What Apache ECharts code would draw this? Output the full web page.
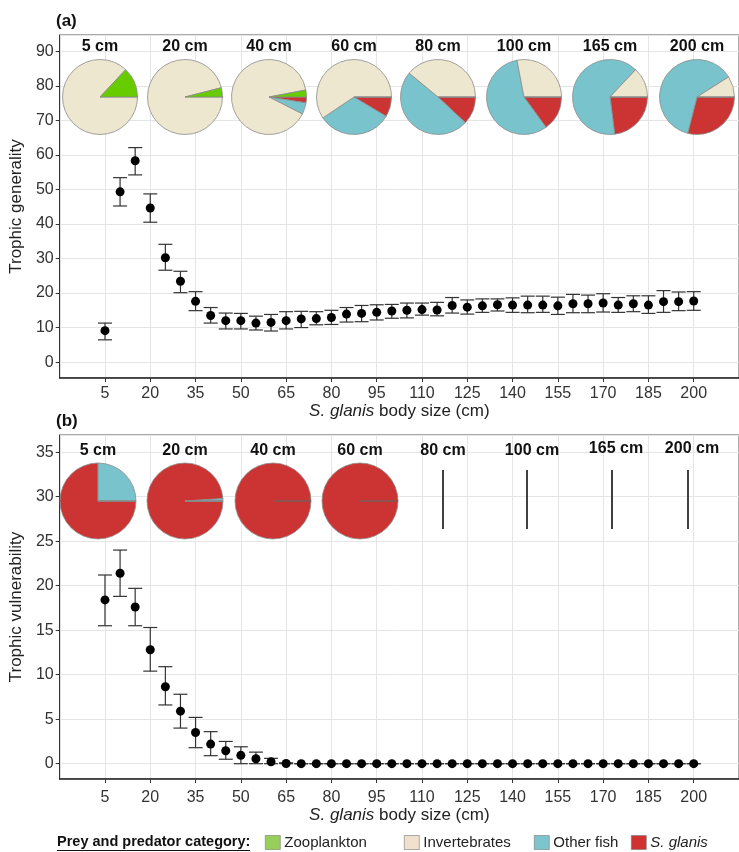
<!DOCTYPE html>
<html><head><meta charset="utf-8">
<script src="https://cdn.jsdelivr.net/npm/echarts@6/dist/echarts.min.js"></script>
<style>html,body{margin:0;padding:0;background:#fff}#c{width:739px;height:852px}</style>
</head><body><div id="c"></div>
<script>
// ---------- data ----------
const sizes = [5,10,15,20,25,30,35,40,45,50,55,60,65,70,75,80,85,90,95,100,105,110,115,120,125,130,135,140,145,150,155,160,165,170,175,180,185,190,195,200];
const xTickLabels = ['5','20','35','50','65','80','95','110','125','140','155','170','185','200'];
const genMean = [9.1,49.3,58.3,44.6,30.2,23.4,17.6,13.5,12.0,12.0,11.3,11.5,12.0,12.5,12.6,12.9,13.9,14.1,14.4,14.8,15.0,15.2,15.1,16.4,15.9,16.3,16.6,16.5,16.5,16.5,16.3,16.9,16.9,17.1,16.5,16.9,16.5,17.5,17.5,17.7];
const genLow  = [6.45,45.2,54.2,40.5,26.6,20.1,14.9,11.3,9.6,9.6,9.3,9.0,9.6,10.0,10.8,10.9,11.6,11.7,12.2,12.7,12.8,13.6,13.4,14.2,13.9,14.4,14.8,14.4,14.3,14.4,13.8,14.3,14.3,14.5,14.4,14.6,14.1,14.4,14.9,15.0];
const genHigh = [11.3,53.4,62.1,48.7,34.1,26.3,20.4,15.8,14.2,14.1,13.3,13.8,14.6,14.7,14.6,15.0,15.8,16.4,16.6,16.7,17.1,17.1,17.3,18.7,18.0,18.3,18.3,18.6,19.1,19.1,18.8,19.6,19.4,19.8,18.7,19.2,19.2,20.7,20.3,20.4];
const vulMean = [18.4,21.4,17.6,12.8,8.65,5.9,3.5,2.2,1.46,0.94,0.56,0.22,0.02,0,0,0,0,0,0,0,0,0,0,0,0,0,0,0,0,0,0,0,0,0,0,0,0,0,0,0];
const vulLow  = [15.5,18.8,15.5,10.4,6.6,4.0,1.8,0.9,0.5,0.0,0.0,0.0,0.0,0,0,0,0,0,0,0,0,0,0,0,0,0,0,0,0,0,0,0,0,0,0,0,0,0,0,0];
const vulHigh = [21.2,24.0,19.7,15.3,10.9,7.8,5.2,3.6,2.5,1.9,1.3,0.6,0.1,0,0,0,0,0,0,0,0,0,0,0,0,0,0,0,0,0,0,0,0,0,0,0,0,0,0,0];

// diet categories (clockwise from 3 o'clock): S. glanis, Other fish, Invertebrates, Zooplankton
const categories = ['S. glanis','Other fish','Invertebrates','Zooplankton'];
const pieSizesA = ['5 cm','20 cm','40 cm','60 cm','80 cm','100 cm','165 cm','200 cm'];
const dietSGlanis  = [0,0,2.5,8.6,12,15,23,29];
const dietOtherFish= [0,0,5,32,49,57,64,62];
const dietInvert   = [87,96,89.5,59.4,39,28,13,9];
const dietZoo      = [13,4,3,0,0,0,0,0];
// predators (panel b)
const pieSizesB = ['5 cm','20 cm','40 cm','60 cm','80 cm','100 cm','165 cm','200 cm'];
const predSGlanis   = [75,99,100,100,0,0,0,0];
const predOtherFish = [25,1,0,0,0,0,0,0];

// ---------- styles / layout ----------
const pieColors = {'S. glanis':'#CC3333','Other fish':'#79C3CC','Invertebrates':'#EDE7CF','Zooplankton':'#66CC00'};
const legendColors = {'S. glanis':'#D03232','Other fish':'#7CC5CE','Invertebrates':'#F0E1CF','Zooplankton':'#97CF5A'};
const pieCentersA = [100,185,269,354,438,524,610,697];
const pieCentersB = [98,185,273,360,443,527,612,688];
const labelXB = [98,185,273,360,443,532,616,692];
const legendLefts = [265,404,534,631];
const font = 'Liberation Sans, Arial, sans-serif';
const textCol = '#333333';

const chart = echarts.init(document.getElementById('c'));

function errRender(params, api){
  const x = api.value(0), lo = api.value(1), hi = api.value(2);
  const a = api.coord([x, lo]), b = api.coord([x, hi]);
  const w = 7, st = {stroke:'#333', lineWidth:1.2};
  return {type:'group', children:[
    {type:'line', shape:{x1:a[0],y1:a[1],x2:b[0],y2:b[1]}, style:st},
    {type:'line', shape:{x1:a[0]-w,y1:a[1],x2:a[0]+w,y2:a[1]}, style:st},
    {type:'line', shape:{x1:b[0]-w,y1:b[1],x2:b[0]+w,y2:b[1]}, style:st}
  ]};
}

const xShift = v => v - 5;
function xAxisCfg(gi, margin, gap){
  return {type:'value', gridIndex:gi, min:-15, max:210, interval:15,
    axisLine:{show:true, onZero:false, lineStyle:{color:'#222', width:1.5}},
    axisTick:{show:true, length:4, lineStyle:{color:'#333'}},
    axisLabel:{fontFamily:font, fontSize:16, color:textCol, margin:margin, showMinLabel:false, showMaxLabel:false,
      formatter: v => { const s = String(v+5); return xTickLabels.indexOf(s) >= 0 ? s : ''; }},
    splitLine:{show:true, lineStyle:{color:'#E5E5E5', width:1}},
    name:'{i|S. glanis} body size (cm)', nameLocation:'middle', nameGap:gap,
    nameTextStyle:{fontFamily:font, fontSize:17, color:'#222', rich:{i:{fontStyle:'italic', fontFamily:font, fontSize:17, color:'#222'}}}
  };
}
function yAxisCfg(gi, min, max, step, name){
  return {type:'value', gridIndex:gi, min:min, max:max, minInterval:step, maxInterval:step,
    axisLine:{show:true, onZero:false, lineStyle:{color:'#333', width:1}},
    axisTick:{show:true, length:4, lineStyle:{color:'#333'}},
    axisLabel:{fontFamily:font, fontSize:16, color:textCol, margin:6, showMinLabel:false, showMaxLabel:false,
      formatter: v => (Math.abs(v % step) < 1e-9 ? String(v) : '')},
    splitLine:{show:true, lineStyle:{color:'#E5E5E5', width:1}},
    name:name, nameLocation:'middle', nameGap:30,
    nameTextStyle:{fontFamily:font, fontSize:17, color:'#222'}
  };
}

const series = [];
// panel a
series.push({type:'custom', xAxisIndex:0, yAxisIndex:0, renderItem:errRender, encode:{x:0,y:[1,2]},
  data: sizes.map((s,i)=>[xShift(s), genLow[i], genHigh[i]]), silent:true, z:3});
series.push({type:'scatter', xAxisIndex:0, yAxisIndex:0, symbolSize:9, itemStyle:{color:'#000', opacity:1},
  data: sizes.map((s,i)=>[xShift(s), genMean[i]]), silent:true, z:4});
// panel b
series.push({type:'custom', xAxisIndex:1, yAxisIndex:1, renderItem:errRender, encode:{x:0,y:[1,2]},
  data: sizes.map((s,i)=>[xShift(s), vulLow[i], vulHigh[i]]), silent:true, z:3});
series.push({type:'scatter', xAxisIndex:1, yAxisIndex:1, symbolSize:9, itemStyle:{color:'#000', opacity:1},
  data: sizes.map((s,i)=>[xShift(s), vulMean[i]]), silent:true, z:4});

function pieSeries(cx, cy, r, vals){
  return {type:'pie', center:[cx, cy], radius:[0, r], startAngle:0, clockwise:true, silent:true,
    stillShowZeroSum:false, avoidLabelOverlap:false, label:{show:false}, labelLine:{show:false},
    emphasis:{disabled:true}, animation:false, z:5,
    itemStyle:{borderColor:'#8c8c8c', borderWidth:0.8},
    data: vals.map((v,k)=>({name:categories[k], value:v, itemStyle:{color:pieColors[categories[k]]}}))
  };
}
pieSizesA.forEach((lab,i)=>{
  series.push(pieSeries(pieCentersA[i], 97, 37.5, [dietSGlanis[i], dietOtherFish[i], dietInvert[i], dietZoo[i]]));
});
const graphics = [];
pieSizesB.forEach((lab,i)=>{
  const tot = predSGlanis[i] + predOtherFish[i];
  if (tot > 0) {
    series.push(pieSeries(pieCentersB[i], 501, 38, [predSGlanis[i], predOtherFish[i], 0, 0]));
    if (predOtherFish[i] === 0) {
      // single-category pie: its seam at 3 o'clock
      graphics.push({type:'line', shape:{x1:pieCentersB[i], y1:501, x2:pieCentersB[i]+38, y2:501}, style:{stroke:'#8a2020', lineWidth:1}, z:10});
    }
  } else {
    // degenerate pie (no predators): drawn as a vertical stroke
    graphics.push({type:'line', shape:{x1:pieCentersB[i], y1:470, x2:pieCentersB[i], y2:529}, style:{stroke:'#111', lineWidth:1.6}, z:10});
  }
});
pieSizesA.forEach((lab,i)=>{
  graphics.push({type:'text', x:pieCentersA[i], y:47, style:{text:lab, fontFamily:font, fontSize:16, fontWeight:'bold', fill:'#111', align:'center', verticalAlign:'middle'}, z:10});
});
pieSizesB.forEach((lab,i)=>{
  graphics.push({type:'text', x:labelXB[i], y:(i>=6?449:451), style:{text:lab, fontFamily:font, fontSize:16, fontWeight:'bold', fill:'#111', align:'center', verticalAlign:'middle'}, z:10});
});
graphics.push({type:'text', x:56, y:21, style:{text:'(a)', fontFamily:font, fontSize:17, fontWeight:'bold', fill:'#111', verticalAlign:'middle'}});
graphics.push({type:'text', x:56, y:421, style:{text:'(b)', fontFamily:font, fontSize:17, fontWeight:'bold', fill:'#111', verticalAlign:'middle'}});
graphics.push({type:'text', x:57, y:842, style:{text:'Prey and predator category:', fontFamily:font, fontSize:14.5, fontWeight:'bold', fill:'#111', verticalAlign:'middle'}});
graphics.push({type:'line', shape:{x1:57, y1:850.5, x2:250, y2:850.5}, style:{stroke:'#111', lineWidth:1}});

const legendOrder = ['Zooplankton','Invertebrates','Other fish','S. glanis'];
const legends = legendOrder.map((n,k)=>({
  left:legendLefts[k], top:835, padding:0, itemWidth:15, itemHeight:14, selectedMode:false, icon:'rect',
  textStyle:{fontFamily:font, fontSize:15, color:'#222', padding:[0,0,0,-1], rich:{i:{fontStyle:'italic', fontFamily:font, fontSize:15, color:'#222'}}},
  formatter: nm => nm === 'S. glanis' ? '{i|S. glanis}' : nm,
  itemGap:0,
  data:[{name:n, itemStyle:{color:legendColors[n], borderColor:'#777', borderWidth:0.6}}]
}));

chart.setOption({
  animation:false,
  backgroundColor:'#fff',
  grid:[
    {left:55, top:35, right:-1, height:343, show:true, borderColor:'#555', borderWidth:1, containLabel:false},
    {left:55, top:435, right:-1, height:344, show:true, borderColor:'#555', borderWidth:1, containLabel:false}
  ],
  xAxis:[xAxisCfg(0, 8, 25), xAxisCfg(1, 11, 23)],
  yAxis:[yAxisCfg(0, -4.6, 94.7, 10, 'Trophic generality'), yAxisCfg(1, -1.72, 36.93, 5, 'Trophic vulnerability')],
  legend: legends,
  graphic: graphics,
  series: series
});
</script></body></html>
